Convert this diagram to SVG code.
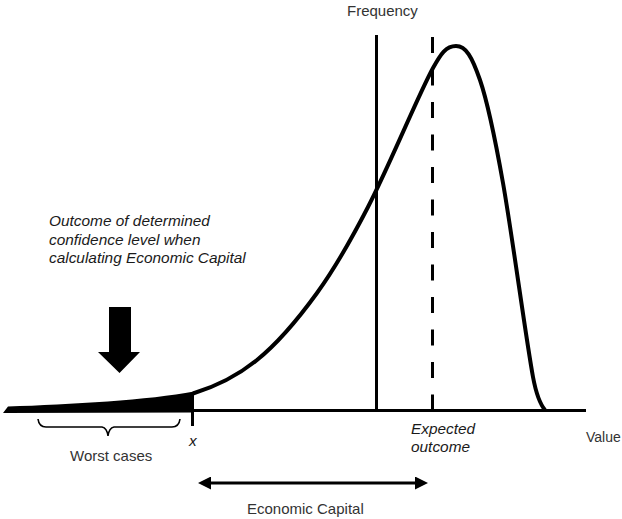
<svg xmlns="http://www.w3.org/2000/svg" width="622" height="519" viewBox="0 0 622 519">
<style>
.reg{font-family:"Liberation Sans",Arial,sans-serif;font-size:15px;fill:#333}
.it{font-family:"Liberation Sans",Arial,sans-serif;font-size:15.4px;font-style:italic;fill:#1a1a1a}
.ln{stroke:#000;fill:none}
</style>
<defs>
<marker id="ah" markerWidth="14" markerHeight="13" refX="6" refY="6.5" orient="auto-start-reverse" markerUnits="userSpaceOnUse">
<path d="M0,0 L13,6.5 L0,13 Z" fill="#000"/>
</marker>
</defs>
<g id="axes">
<line class="ln" x1="190" y1="410.5" x2="586" y2="410.5" stroke-width="3"/>
<line class="ln" x1="192.5" y1="409" x2="192.5" y2="426" stroke-width="3"/>
</g>
<g id="tail">
<path d="M3,413 L8,406.5 C70,404.5 150,400 194,391.5 L194,412.5 Z" fill="#000"/>
</g>
<g id="curve">
<path class="ln" stroke-width="4" d="M193,393.5 C214,387.1 236,377 257,360 C277,343.8 297,320.6 317,293 C334,269.5 351,240 368,207 C389.7,165 418.3,94.8 433,68 C441,53.4 446,46 456,46 C466,46 472,56.7 480,80 C488,103.3 494.2,133.5 503,183 C511.8,232.5 526,339.2 533,377 C536,393 540,404 545,410"/>
</g>
<g id="lines">
<line class="ln" x1="376.5" y1="35" x2="376.5" y2="410" stroke-width="3"/>
<line class="ln" x1="432.5" y1="37" x2="432.5" y2="410" stroke-width="3" stroke-dasharray="16 16.5"/>
</g>
<g id="labels">
<text class="reg" x="347" y="16">Frequency</text>
<text class="reg" x="586" y="442" style="font-size:14px">Value</text>
<text class="it" x="411" y="434">Expected</text>
<text class="it" x="411" y="452">outcome</text>
<text class="it" x="189" y="446">x</text>
<text class="it" x="49" y="226">Outcome of determined</text>
<text class="it" x="49" y="245">confidence level when</text>
<text class="it" x="49" y="263">calculating Economic Capital</text>
<text class="reg" x="70" y="461">Worst cases</text>
<text class="reg" x="247" y="514">Economic Capital</text>
</g>
<g id="big-arrow">
<path d="M109,307 L131,307 L131,352 L140,352 L119.5,373 L98,352 L109,352 Z" fill="#000"/>
</g>
<g id="brace">
<path class="ln" stroke-width="1.6" d="M38,419 Q39,427 46,427 L102,427 Q107,428 108,436 Q109,428 114,427 L172,427 Q179,427 180,419"/>
</g>
<g id="connectors">
<line class="ln" x1="205" y1="483" x2="421" y2="483" stroke-width="3" marker-start="url(#ah)" marker-end="url(#ah)"/>
</g>
</svg>
